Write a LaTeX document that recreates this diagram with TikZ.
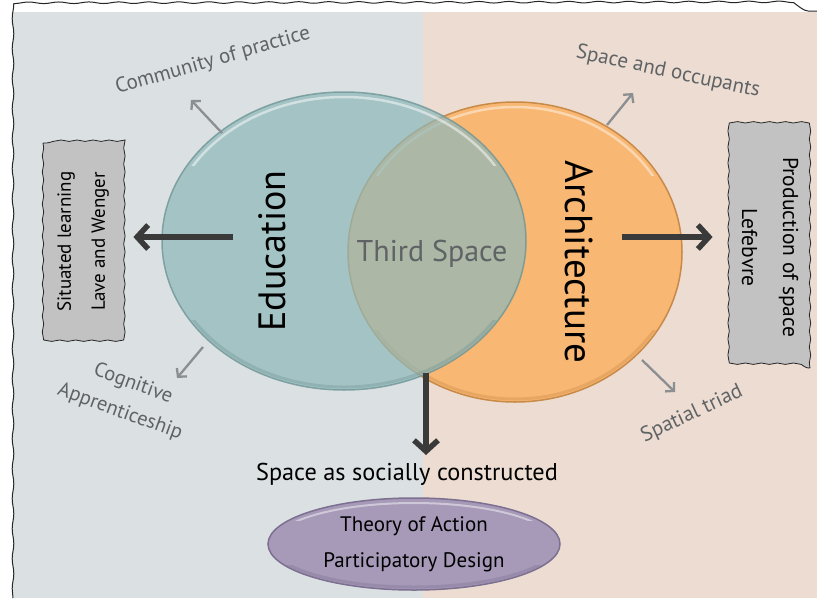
\documentclass[tikz,border=0pt]{standalone}
\usepackage{fontspec}
\setmainfont{PT Sans}
\usetikzlibrary{arrows.meta,shapes.geometric,decorations.pathmorphing}
\definecolor{bgL}{HTML}{DBE1E3}
\definecolor{bgR}{HTML}{ECDCD2}
\definecolor{eduC}{HTML}{8FB8B9}
\definecolor{eduD}{HTML}{6F9596}
\definecolor{archC}{HTML}{F8B772}
\definecolor{archD}{HTML}{C98A48}
\definecolor{purpC}{HTML}{A69AB8}
\definecolor{purpD}{HTML}{7C6F90}
\definecolor{boxC}{HTML}{C2C2C2}
\definecolor{arrD}{HTML}{3A3A3A}
\definecolor{arrG}{HTML}{8B8F91}
\definecolor{txtG}{HTML}{5F6365}
\begin{document}
\begin{tikzpicture}[x=1pt,y=-1pt,
  circ/.style={ellipse, inner sep=0pt},
  bigarrow/.style={draw=arrD, line width=5.5pt, -{Straight Barb[length=11pt,width=24pt]}},
  smallarrow/.style={draw=arrG, line width=2.3pt, -{Straight Barb[length=6pt,width=13pt]}},
  wavybox/.style={draw=black!85, line width=0.8pt, fill=boxC, inner sep=0pt,
     decorate, decoration={snake, amplitude=0.7pt, segment length=16pt}},
  note/.style={text=txtG, inner sep=0pt},
  hand/.style={decorate, decoration={snake, amplitude=0.8pt, segment length=30pt}}
]
\useasboundingbox (0,0) rectangle (817,598);
% backgrounds
\fill[white] (0,0) rectangle (817,598);
\fill[bgL] (13,12) rectangle (423,598);
\fill[bgR] (423,12) rectangle (817,598);
\draw[black!85, line width=1pt, hand] (13,598) -- (13,12) -- (817,11);

% circles
\node[circ, fill=archC, draw=archD, line width=1.5pt, minimum width=334pt, minimum height=300pt] (arch) at (515,252) {};
\begin{scope}
  \clip (340,90) rectangle (700,175);
  \draw[white, opacity=0.45, line width=2.5pt] (515,252) ellipse [x radius=162, y radius=145];
\end{scope}
\begin{scope}
  \clip (340,330) rectangle (700,410);
  \draw[archD, opacity=0.35, line width=3pt] (515,252) ellipse [x radius=164, y radius=147];
\end{scope}
\node[circ, fill=eduC, fill opacity=0.72, draw=eduD, draw opacity=0.8, line width=1.5pt, minimum width=364pt, minimum height=298pt] (edu) at (344,241) {};
\begin{scope}
  \clip (150,80) rectangle (540,165);
  \draw[white, opacity=0.5, line width=2.5pt] (344,241) ellipse [x radius=177, y radius=144];
\end{scope}
\begin{scope}
  \clip (150,320) rectangle (540,400);
  \draw[eduD, opacity=0.35, line width=3pt] (344,241) ellipse [x radius=179, y radius=146];
\end{scope}

% circle texts
\node[rotate=90, font=\fontsize{38}{42}\selectfont, inner sep=0pt] (edut) at (272,251) {Education};
\node[rotate=-90, font=\fontsize{39}{42}\selectfont, inner sep=0pt] (archt) at (579,262) {Architecture};
\node[font=\fontsize{30}{32}\selectfont, text=txtG, inner sep=0pt] (third) at (432,254) {Third Space};

% side boxes
\node[wavybox, rotate=90, minimum width=197pt, minimum height=80pt, align=center,
      font=\fontsize{19}{34}\selectfont] (sit) at (83,241.5) {Situated learning\\Lave and Wenger};
\node[wavybox, rotate=-90, minimum width=241pt, minimum height=80pt, align=center,
      font=\fontsize{21.5}{41}\selectfont] (prod) at (770,247.5) {Production of space\\Lefebvre};

% thick arrows
\coordinate (eduOut) at (233,237);
\coordinate (archOut) at (622,237);
\coordinate (thirdOut) at (426,373);
\coordinate (downEnd) at (426,455);
\draw[bigarrow, shorten >=10pt] (eduOut) -- (eduOut -| sit.south);
\draw[bigarrow, shorten >=17pt] (archOut) -- (archOut -| prod.south);
\draw[bigarrow] (thirdOut) -- (downEnd);

% annotation arrows and texts
\node[note, rotate=16, font=\fontsize{21}{22}\selectfont] (cop) at (213,61) {Community of practice};
\node[note, rotate=-12, font=\fontsize{21}{22}\selectfont] (sao) at (668,72) {Space and occupants};
\node[note, rotate=-20, font=\fontsize{20.5}{22}\selectfont] (cog1) at (133,384) {Cognitive};
\node[note, rotate=-20, font=\fontsize{20.5}{22}\selectfont] (cog2) at (120,412) {Apprenticeship};
\node[note, rotate=25, font=\fontsize{21}{22}\selectfont] (spt) at (692,414) {Spatial triad};

\coordinate (copS) at (222,133); \coordinate (copE) at (191,100);
\coordinate (saoS) at (607,125); \coordinate (saoE) at (633,93);
\coordinate (cogS) at (203,347); \coordinate (cogE) at (177,378);
\coordinate (sptS) at (642,360); \coordinate (sptE) at (675,392);
\draw[smallarrow] (copS) -- (copE);
\draw[smallarrow] (saoS) -- (saoE);
\draw[smallarrow] (cogS) -- (cogE);
\draw[smallarrow] (sptS) -- (sptE);

% bottom
\node[font=\fontsize{24.3}{27}\selectfont, inner sep=0pt] (social) at (407,474) {Space as socially constructed};
\node[circ, fill=purpC, draw=purpD, line width=1.5pt, minimum width=292pt, minimum height=92pt,
      align=center, font=\fontsize{21}{36}\selectfont] (toa) at (414,544) {Theory of Action\\Participatory Design};
\begin{scope}
  \clip (260,495) rectangle (570,520);
  \draw[white, opacity=0.45, line width=2pt] (414,544) ellipse [x radius=141, y radius=41];
\end{scope}
\begin{scope}
  \clip (260,565) rectangle (570,595);
  \draw[purpD, opacity=0.35, line width=3pt] (414,544) ellipse [x radius=143, y radius=43];
\end{scope}
\end{tikzpicture}
\end{document}
